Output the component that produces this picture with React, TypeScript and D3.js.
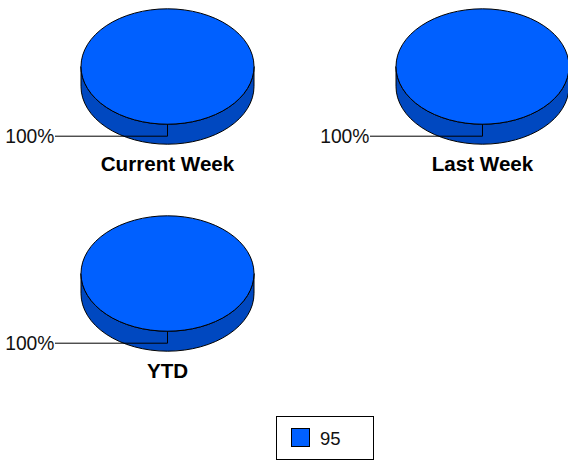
import React from "react";
import * as d3 from "d3";

const chartTitles = ["Current Week", "Last Week", "YTD"];
const chartValues = [[100], [100], [100]];
const legendLabels = ["95"];
const sliceColors = ["#0060ff"];
const sideColors = ["#0048c0"];

const W = 568, H = 462;
const RX = 86.5, RY = 57.7, DEPTH = 20;
const FONT = "'Liberation Sans', Arial, sans-serif";
const COLS = 2;

const xScale = d3.scalePoint<number>().domain([0, 1]).range([167.5, 482.5]);
const yScale = d3.scalePoint<number>().domain([0, 1]).range([66.5, 273.5]);

function rimPath() {
  // Outer rim of the cylinder: the lower half of the ellipse, extruded downwards.
  return `M${-RX},0 L${-RX},${DEPTH} A${RX},${RY} 0 0 0 ${RX},${DEPTH} L${RX},0 A${RX},${RY} 0 0 1 ${-RX},0 Z`;
}

function Pie3D({ title, values, index }: { title: string; values: number[]; index: number }) {
  const cx = xScale(index % COLS) as number;
  const cy = yScale(Math.floor(index / COLS)) as number;
  const arcs = d3.pie<number>().sort(null)(values);
  const arcGen = d3.arc<d3.PieArcDatum<number>>().innerRadius(0).outerRadius(1);
  const total = d3.sum(values);
  return (
    <g transform={`translate(${cx},${cy})`}>
      <path d={rimPath()} fill={sideColors[0]} stroke="#000" strokeWidth={1} />
      {arcs.map((a, i) => (
        <path
          key={i}
          d={arcGen(a) as string}
          transform={`scale(${RX},${RY})`}
          fill={sliceColors[i]}
          stroke="#000"
          strokeWidth={1}
          vectorEffect="non-scaling-stroke"
        />
      ))}
      <path d={`M0,${RY} V${RY + 12} H-112.5`} fill="none" stroke="#000" strokeWidth={1} />
      <text x={-113} y={RY + 18.5} textAnchor="end" fontFamily={FONT} fontSize={19.3} fill="#111">
        {`${Math.round((values[0] / total) * 100)}%`}
      </text>
      <text x={0} y={RY + 47} textAnchor="middle" fontFamily={FONT} fontSize={20.6} fontWeight="bold" fill="#000">
        {title}
      </text>
    </g>
  );
}

export default function App() {
  return (
    <svg
      width={W}
      height={H}
      viewBox={`0 0 ${W} ${H}`}
      style={{ position: "absolute", left: 0, top: 0, display: "block" }}
    >
      <rect width={W} height={H} fill="#fff" />
      {chartTitles.map((t, i) => (
        <Pie3D key={t} title={t} values={chartValues[i]} index={i} />
      ))}
      <rect x={276.5} y={416.5} width={97} height={43} fill="#fff" stroke="#000" strokeWidth={1} />
      {legendLabels.map((l, i) => (
        <g key={l}>
          <rect x={291.5} y={428.5} width={18} height={18} fill={sliceColors[i]} stroke="#000" strokeWidth={1} />
          <text x={320} y={444.5} fontFamily={FONT} fontSize={18.5} fill="#111">
            {l}
          </text>
        </g>
      ))}
    </svg>
  );
}
